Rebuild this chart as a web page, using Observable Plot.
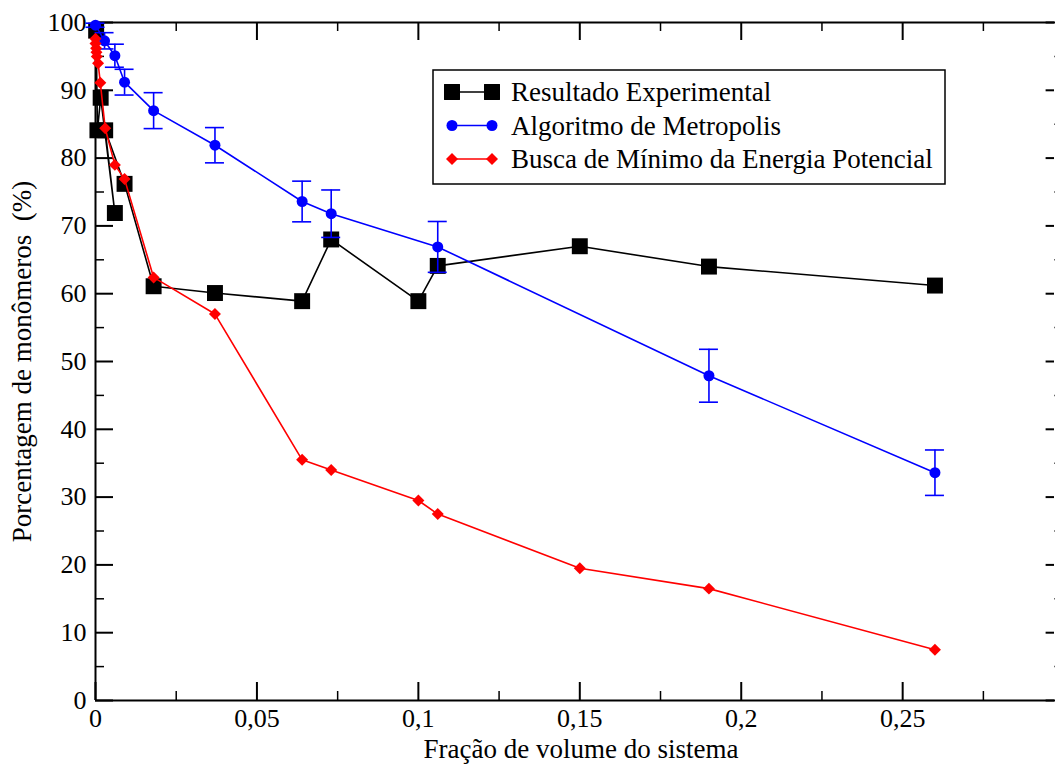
<!DOCTYPE html>
<html>
<head>
<meta charset="utf-8">
<script src="https://cdn.jsdelivr.net/npm/d3@7"></script>
<script src="https://cdn.jsdelivr.net/npm/@observablehq/plot@0.6"></script>
<style>
  html, body { margin: 0; padding: 0; background: white; }
</style>
</head>
<body>
<div id="chart"></div>
<script>
// ---- Data ----
const seriesNames = ["Resultado Experimental", "Algoritmo de Metropolis", "Busca de Mínimo da Energia Potencial"];

// Resultado Experimental (black squares)
const expX = [0.0002, 0.0006, 0.0016, 0.006, 0.003, 0.009, 0.018, 0.037, 0.064, 0.073, 0.1, 0.106, 0.15, 0.19, 0.26];
const expY = [98.8, 84.1, 88.9, 71.9, 84.1, 76.2, 61.1, 60.1, 58.9, 68.0, 58.9, 64.1, 67.0, 64.0, 61.2];

// Algoritmo de Metropolis (blue circles, with error bars)
const metX = [0, 0.0028, 0.006, 0.009, 0.018, 0.037, 0.064, 0.073, 0.106, 0.19, 0.26];
const metY = [99.6, 97.3, 95.1, 91.2, 87.0, 81.9, 73.6, 71.8, 66.9, 47.9, 33.6];
const metErr = [0.3, 1.2, 1.7, 1.9, 2.65, 2.6, 3.0, 3.5, 3.75, 3.9, 3.35];

// Busca de Mínimo da Energia Potencial (red diamonds)
const enX = [0, 0, 0.0002, 0.0003, 0.0004, 0.0008, 0.0015, 0.003, 0.006, 0.009, 0.018, 0.037, 0.064, 0.073, 0.1, 0.106, 0.15, 0.19, 0.26];
const enY = [97.6, 96.9, 96.2, 95.6, 95.0, 94.0, 91.1, 84.4, 79.0, 76.9, 62.4, 57.0, 35.5, 34.0, 29.5, 27.5, 19.5, 16.5, 7.5];

// Ticks
const xMajor = [0, 0.05, 0.1, 0.15, 0.2, 0.25];
const xMinor = [0.025, 0.075, 0.125, 0.175, 0.225, 0.275];
const xTickLabels = [0, 0.05, 0.1, 0.15, 0.2, 0.25];
const yMajor = [0, 10, 20, 30, 40, 50, 60, 70, 80, 90, 100];
const yMinor = [5, 15, 25, 35, 45, 55, 65, 75, 85, 95];

const xLabel = "Fração de volume do sistema";
const yLabel = "Porcentagem de monômeros  (%)";

// ---- Build tables ----
const exp = expX.map((x, i) => ({x, y: expY[i]}));
const met = metX.map((x, i) => ({x, y: metY[i], lo: metY[i] - metErr[i], hi: metY[i] + metErr[i]}));
const en = enX.map((x, i) => ({x, y: enY[i]}));

// The original figure is cropped on the right: its axis frame (x = 0.3) lies ~10px past the
// page edge. We show the visible part of the axis: x from 0 to where the page edge falls.
const W = 1055, H = 767, mL = 95, mR = 1, mT = 22, mB = 67;
const innerW = W - mL - mR, innerH = H - mT - mB;
const hiddenPx = 9.6;                               // px of the frame cut off at the right
const xEnd = 0.3 * innerW / (innerW + hiddenPx);    // visible end of the x axis
const majorLen = 18, minorLen = 9;
const font = "Liberation Serif, Times New Roman, serif";

const chart = Plot.plot({
  width: W, height: H,
  marginLeft: mL, marginRight: mR, marginTop: mT, marginBottom: mB,
  x: {domain: [0, xEnd]},
  y: {domain: [0, 100]},
  style: {"font-family": font, "font-size": "26px", color: "black", background: "white"},
  marks: [
    // inward ticks (bottom, top, left, right)
    Plot.ruleX(xMajor, {x: d => d, insetTop: innerH - majorLen, stroke: "black", strokeWidth: 2}),
    Plot.ruleX(xMajor, {x: d => d, insetBottom: innerH - majorLen, stroke: "black", strokeWidth: 2}),
    Plot.ruleX(xMinor, {x: d => d, insetTop: innerH - minorLen, stroke: "black", strokeWidth: 1.5}),
    Plot.ruleX(xMinor, {x: d => d, insetBottom: innerH - minorLen, stroke: "black", strokeWidth: 1.5}),
    Plot.ruleY(yMajor, {y: d => d, insetRight: innerW - majorLen, stroke: "black", strokeWidth: 2}),
    Plot.ruleY(yMajor, {y: d => d, insetLeft: innerW + hiddenPx - majorLen, stroke: "black", strokeWidth: 2}),
    Plot.ruleY(yMinor, {y: d => d, insetRight: innerW - minorLen, stroke: "black", strokeWidth: 1.5}),
    Plot.ruleY(yMinor, {y: d => d, insetLeft: innerW + hiddenPx - minorLen, stroke: "black", strokeWidth: 1.5}),
    // frame: left, bottom and top edges (the right edge is cut off in the original)
    Plot.ruleX([0], {stroke: "black", strokeWidth: 2}),
    Plot.ruleY([0, 100], {insetRight: -2, stroke: "black", strokeWidth: 2}),
    Plot.axisX({ticks: xTickLabels, tickSize: 0, tickPadding: 8, label: null, fontSize: 26, fontFamily: font,
      tickFormat: d => String(d).replace(".", ",")}),
    Plot.axisY({ticks: yMajor, tickSize: 0, tickPadding: 9, label: null, fontSize: 26, fontFamily: font}),
    Plot.text([xLabel], {text: d => d, frameAnchor: "bottom", dy: 57, dx: 6, lineAnchor: "bottom",
      textAnchor: "middle", fontSize: 27, fontFamily: font}),
    Plot.text([yLabel], {text: d => d, frameAnchor: "left", dx: -73, rotate: -90, lineAnchor: "middle",
      textAnchor: "middle", fontSize: 27, fontFamily: font}),
    // Experimental
    Plot.line(exp, {x: "x", y: "y", stroke: "black", strokeWidth: 1.6}),
    Plot.dot(exp, {x: "x", y: "y", symbol: "square", r: 9, fill: "black"}),
    // Metropolis
    Plot.line(met, {x: "x", y: "y", stroke: "#0000ff", strokeWidth: 1.6}),
    Plot.ruleX(met, {x: "x", y1: "lo", y2: "hi", stroke: "#0000ff", strokeWidth: 1.6}),
    Plot.ruleY(met, {y: "hi", x1: "x", x2: "x", insetLeft: -9.5, insetRight: -9.5, stroke: "#0000ff", strokeWidth: 1.6}),
    Plot.ruleY(met, {y: "lo", x1: "x", x2: "x", insetLeft: -9.5, insetRight: -9.5, stroke: "#0000ff", strokeWidth: 1.6}),
    Plot.dot(met, {x: "x", y: "y", r: 5.5, fill: "#0000ff"}),
    // Energy minimum
    Plot.line(en, {x: "x", y: "y", stroke: "#ff0000", strokeWidth: 1.6}),
    Plot.dot(en, {x: "x", y: "y", symbol: "diamond2", r: 5.4, fill: "#ff0000"})
  ]
});

document.getElementById("chart").appendChild(chart);

// ---- Legend (inside plot area, top right) ----
const svg = d3.select(chart);
const lg = svg.append("g").attr("transform", "translate(433,70)");
lg.append("rect").attr("width", 512).attr("height", 114)
  .attr("fill", "white").attr("stroke", "black").attr("stroke-width", 1.5);
const legendStyles = [
  {color: "black", symbol: d3.symbolSquare, size: Math.PI * 81},
  {color: "#0000ff", symbol: d3.symbolCircle, size: Math.PI * 5.5 * 5.5},
  {color: "#ff0000", symbol: d3.symbolDiamond2, size: Math.PI * 5.4 * 5.4}
];
seriesNames.forEach((name, i) => {
  const st = legendStyles[i];
  const row = lg.append("g").attr("transform", `translate(0,${22 + i * 33.5})`);
  row.append("line").attr("x1", 19).attr("x2", 59).attr("stroke", st.color).attr("stroke-width", 1.6);
  [19, 59].forEach(cx => {
    row.append("path").attr("transform", `translate(${cx},0)`)
      .attr("d", d3.symbol(st.symbol, st.size)()).attr("fill", st.color);
  });
  row.append("text").attr("x", 78).attr("dy", "0.35em").attr("text-anchor", "start")
    .attr("font-family", font).attr("font-size", 27).attr("fill", "black").text(name);
});
</script>
</body>
</html>
